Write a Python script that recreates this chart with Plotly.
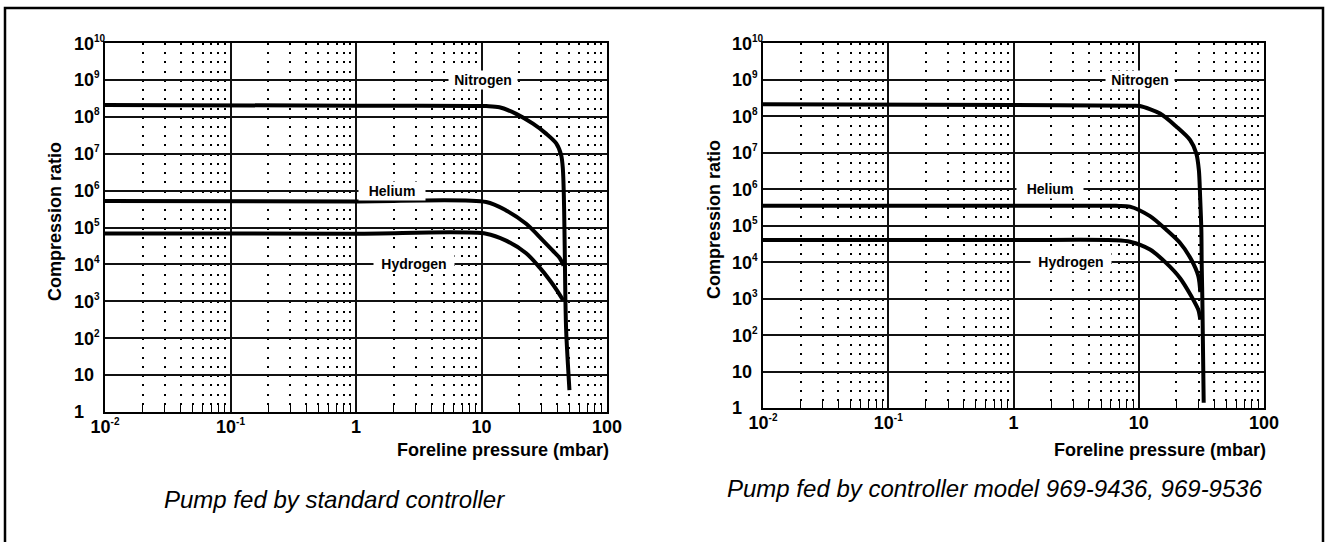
import plotly.graph_objects as go

# ---- Pump fed by standard controller ----
STD_N2_P = [0.01, 1, 10.9, 13.9, 18.9, 25.7, 32.7, 39.4, 43.2, 44.5, 45.3, 45.8, 46.2, 46.6, 47.3, 50.2]
STD_N2_CR = [2.1e8, 2.0e8, 1.95e8, 1.82e8, 1.2e8, 6.5e7, 3.5e7, 1.9e7, 9e6, 3.9e6, 7.4e5, 9.1e4, 1.15e4, 1.2e3, 150, 3.9]

STD_HE_P = [0.01, 1, 10.9, 15.7, 22.7, 30.8, 36.8, 41.9, 45.1]
STD_HE_CR = [5.2e5, 5.1e5, 4.9e5, 2.9e5, 1.26e5, 4.5e4, 2.4e4, 1.5e4, 9.3e3]

STD_H2_P = [0.01, 1, 10.9, 15.7, 22.7, 29.0, 35.5, 40.4, 44.7]
STD_H2_CR = [6.9e4, 6.8e4, 6.8e4, 4.4e4, 2.0e4, 8.3e3, 3.5e3, 1.86e3, 1.07e3]

# ---- Pump fed by controller model 969-9436, 969-9536 ----
CTL_N2_P = [0.01, 1, 8.5, 10.2, 14.8, 20.0, 25.7, 28.8, 30.2, 30.9, 31.6, 31.8, 32.2, 33.0]
CTL_N2_CR = [2.1e8, 2.0e8, 1.9e8, 1.88e8, 1.17e8, 5.1e7, 2.2e7, 9.5e6, 3.3e6, 6.2e5, 7.6e4, 9.3e3, 910, 1.4]

CTL_HE_P = [0.01, 1, 6.6, 8.5, 12.3, 16.6, 21.4, 26.3, 29.9, 31.0]
CTL_HE_CR = [3.5e5, 3.5e5, 3.45e5, 3.3e5, 1.8e5, 7.6e4, 3.3e4, 1.15e4, 4.1e3, 1.5e3]

CTL_H2_P = [0.01, 1, 6.6, 8.5, 12.3, 16.6, 21.4, 26.3, 29.9, 31.0]
CTL_H2_CR = [4e4, 4e4, 3.95e4, 3.6e4, 2.2e4, 9.3e3, 3.6e3, 1.15e3, 490, 260]

# ---- Axis ticks ----
SUP = '<sup><span style="font-size:10px">{}</span></sup>'
X_TICKS = [0.01, 0.1, 1, 10, 100]
X_TICK_TEXT = ["10" + SUP.format("-2"), "10" + SUP.format("-1"), "1", "10", "100"]
X_MINOR = [d * 10.0 ** k for k in range(-2, 2) for d in range(2, 10)]
Y_DECADES = list(range(0, 11))
Y_TICK_TEXT = ["1", "10"] + ["10" + SUP.format(k) for k in range(2, 11)]

# Gas labels: (text, log10 pressure, log10 ratio, box width)
GAS_LABELS = [("Nitrogen", 1.01, 9, 66), ("Helium", 0.29, 6, 64), ("Hydrogen", 0.46, 4, 78)]

W, H = 1328, 542
FONT = "Liberation Sans, Arial, Helvetica, sans-serif"
BOLD18 = dict(family=FONT, size=18, color="black", weight="bold")


def fx(px):
    return px / W


def fy(px):
    return 1 - px / H


def x_axis(dom, anchor, period):
    return dict(
        type="log", range=[-2, 2], domain=dom, anchor=anchor, automargin=False,
        tickmode="array", tickvals=X_TICKS, ticktext=X_TICK_TEXT,
        tickfont=BOLD18, ticklabelstandoff=-3,
        ticks="", showgrid=True, gridcolor="#111", gridwidth=1.5,
        showline=True, linecolor="black", linewidth=2, mirror=True,
        zeroline=False, fixedrange=True,
        minor=dict(tickmode="array", tickvals=X_MINOR, showgrid=True,
                   gridcolor="black", gridwidth=2,
                   griddash=f"2px,{period - 2:.3f}px",
                   ticks="inside", ticklen=7, tickcolor="black", tickwidth=1),
    )


def y_axis(dom, anchor):
    return dict(
        type="log", range=[0, 10], domain=dom, anchor=anchor, automargin=False,
        tickmode="array", tickvals=[10.0 ** k for k in Y_DECADES],
        showticklabels=False,
        ticks="", showgrid=True, gridcolor="#111", gridwidth=1.5,
        showline=True, linecolor="black", linewidth=2, mirror=True,
        zeroline=False, fixedrange=True,
    )


fig = go.Figure()

line = dict(color="black", width=4, shape="spline", smoothing=0.8)
for p, cr in [(STD_N2_P, STD_N2_CR), (STD_HE_P, STD_HE_CR), (STD_H2_P, STD_H2_CR)]:
    fig.add_trace(go.Scatter(x=p, y=cr, mode="lines", line=line, xaxis="x", yaxis="y",
                             showlegend=False, hoverinfo="skip"))
for p, cr in [(CTL_N2_P, CTL_N2_CR), (CTL_HE_P, CTL_HE_CR), (CTL_H2_P, CTL_H2_CR)]:
    fig.add_trace(go.Scatter(x=p, y=cr, mode="lines", line=line, xaxis="x2", yaxis="y2",
                             showlegend=False, hoverinfo="skip"))

annotations = []
for xr, yr in [("x", "y"), ("x2", "y2")]:
    for text, lx, ly, w in GAS_LABELS:
        annotations.append(dict(
            text=text, x=lx, y=ly, xref=xr, yref=yr, showarrow=False,
            bgcolor="white", width=w, borderpad=1,
            font=dict(family=FONT, size=14, color="black", weight="bold"),
        ))

# y tick labels, left-aligned beside each panel
for yr, left in [("y", 72), ("y2", 730)]:
    for k, t in zip(Y_DECADES, Y_TICK_TEXT):
        annotations.append(dict(
            text=t, x=fx(left), y=k, xref="paper", yref=yr, showarrow=False,
            xanchor="left", yanchor="middle", font=BOLD18,
        ))

# axis titles and captions
annotations += [
    dict(text="Foreline pressure (mbar)", x=fx(611), y=fy(450), xref="paper", yref="paper",
         xanchor="right", yanchor="middle", showarrow=False, font=BOLD18),
    dict(text="Foreline pressure (mbar)", x=fx(1268), y=fy(450), xref="paper", yref="paper",
         xanchor="right", yanchor="middle", showarrow=False, font=BOLD18),
    dict(text="Compression ratio", x=fx(55), y=fy(222), xref="paper", yref="paper",
         textangle=-90, xanchor="center", yanchor="middle", showarrow=False, font=BOLD18),
    dict(text="Compression ratio", x=fx(714), y=fy(220), xref="paper", yref="paper",
         textangle=-90, xanchor="center", yanchor="middle", showarrow=False, font=BOLD18),
    dict(text="<i>Pump fed by standard controller</i>", x=fx(334), y=fy(499),
         xref="paper", yref="paper", xanchor="center", yanchor="middle", showarrow=False,
         font=dict(family=FONT, size=24, color="black")),
    dict(text="<i>Pump fed by controller model 969-9436, 969-9536</i>", x=fx(995), y=fy(488),
         xref="paper", yref="paper", xanchor="center", yanchor="middle", showarrow=False,
         font=dict(family=FONT, size=24, color="black")),
]

fig.update_layout(
    template="none",
    width=W, height=H, autosize=False,
    margin=dict(l=0, r=0, t=0, b=0, pad=0, autoexpand=False),
    paper_bgcolor="white", plot_bgcolor="white",
    xaxis=x_axis([fx(105), fx(607)], "y", 369 / 40),
    yaxis=y_axis([fy(412), fy(43)], "x"),
    xaxis2=x_axis([fx(763), fx(1264)], "y2", 365 / 40),
    yaxis2=y_axis([fy(408), fy(43)], "x2"),
    annotations=annotations,
    shapes=[dict(type="rect", xref="paper", yref="paper",
                 x0=fx(5), x1=fx(1323), y0=-0.05, y1=fy(8),
                 line=dict(color="black", width=2.5), fillcolor="rgba(0,0,0,0)", layer="above")],
)

fig.write_html(
    "out.html",
    config={"displayModeBar": False},
    post_script="document.body.style.margin='0';document.body.style.overflow='hidden';",
)
